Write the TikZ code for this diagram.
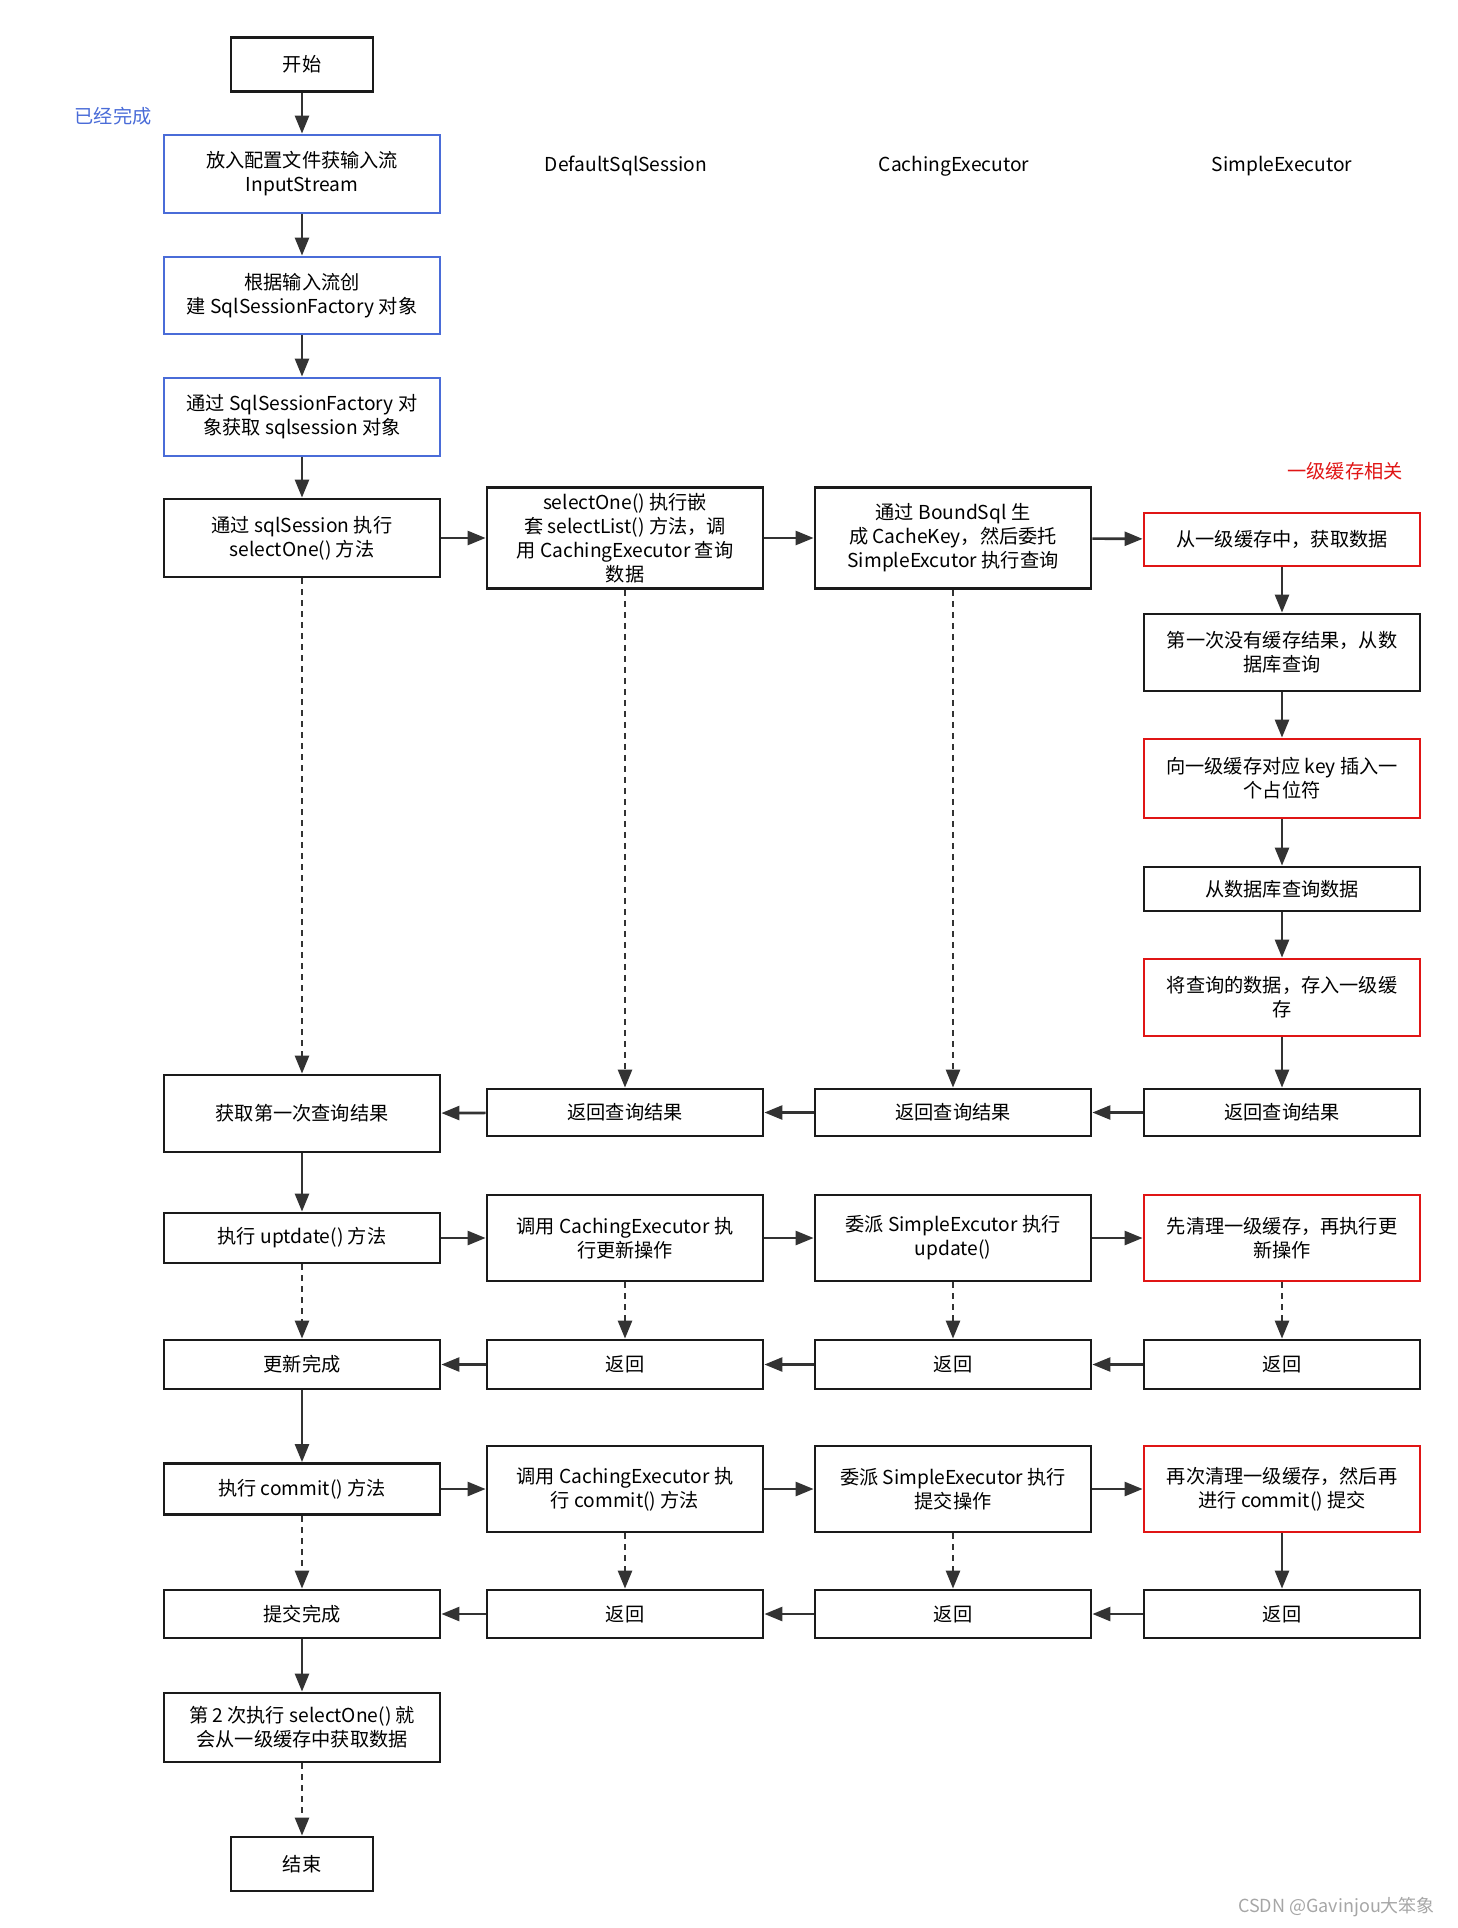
\documentclass[tikz,border=0pt]{standalone}
\usepackage{fontspec}
\setmainfont{Noto Sans CJK SC}
\usetikzlibrary{arrows.meta}
\definecolor{boxline}{HTML}{1A1A1A}
\definecolor{arrowc}{HTML}{333333}
\definecolor{doneblue}{HTML}{4A6CD8}
\definecolor{cachered}{HTML}{E01515}

\begin{document}
\begin{tikzpicture}[x=0.5pt,y=-0.5pt,
    font=\fontsize{9.6}{12}\selectfont,
    box/.style={draw=boxline, line width=1.4pt, fill=white, align=center,
        minimum width=138pt, inner sep=2pt},
    donebox/.style={box, draw=doneblue},
    cachebox/.style={box, draw=cachered},
    flow/.style={draw=arrowc, line width=1.3pt, -{Triangle[length=9pt,width=7pt]}},
    later/.style={flow, dash pattern=on 3pt off 2.5pt}]

    \useasboundingbox (0,0) rectangle (1457,1928);

    % column heads and notes
    \node at (626,166) {DefaultSqlSession};
    \node at (954,166) {CachingExecutor};
    \node at (1282,166) {SimpleExecutor};
    \node[text=doneblue] (done) at (113,116) {已经完成};
    \node[text=cachered] (cnote) at (1345,471) {一级缓存相关};

    % first column, top part
    \node[box, minimum width=71pt, minimum height=27pt] (start) at (302,64.5) {开始};
    \node[donebox, minimum height=39pt] (in1) at (302,174) {放入配置文件获输入流\\InputStream};
    \node[donebox, minimum height=38.5pt] (in2) at (302,295.5) {根据输入流创\\建 SqlSessionFactory 对象};
    \node[donebox, minimum height=39pt] (in3) at (302,417) {通过 SqlSessionFactory 对\\象获取 sqlsession 对象};

    % query row
    \node[box, minimum height=39pt] (q1) at (302,538) {通过 sqlSession 执行\\selectOne() 方法};
    \node[box, minimum height=50.5pt] (q2) at (625,538) {selectOne() 执行嵌\\套 selectList() 方法，调\\用 CachingExecutor 查询\\数据};
    \node[box, minimum height=50.5pt] (q3) at (953,538) {通过 BoundSql 生\\成 CacheKey，然后委托\\SimpleExcutor 执行查询};
    \node[cachebox, minimum height=26.5pt] (q4) at (1282,539.5) {从一级缓存中，获取数据};

    % cache steps
    \node[box, minimum height=38.5pt] (s1) at (1282,652.5) {第一次没有缓存结果，从数\\据库查询};
    \node[cachebox, minimum height=39.5pt] (s2) at (1282,778.5) {向一级缓存对应 key 插入一\\个占位符};
    \node[box, minimum height=22pt] (s3) at (1282,889) {从数据库查询数据};
    \node[cachebox, minimum height=38.5pt] (s4) at (1282,997.5) {将查询的数据，存入一级缓\\存};

    % query results
    \node[box, minimum height=38.5pt] (r1) at (302,1113.5) {获取第一次查询结果};
    \node[box, minimum height=23.5pt] (r2) at (625,1112.5) {返回查询结果};
    \node[box, minimum height=23.5pt] (r3) at (953,1112.5) {返回查询结果};
    \node[box, minimum height=23.5pt] (r4) at (1282,1112.5) {返回查询结果};

    % update row
    \node[box, minimum height=25pt] (u1) at (302,1238) {执行 uptdate() 方法};
    \node[box, minimum height=43pt] (u2) at (625,1238) {调用 CachingExecutor 执\\行更新操作};
    \node[box, minimum height=43pt] (u3) at (953,1238) {委派 SimpleExcutor 执行\\update()};
    \node[cachebox, minimum height=43pt] (u4) at (1282,1238) {先清理一级缓存，再执行更\\新操作};

    \node[box, minimum height=24.5pt] (d1) at (302,1364.5) {更新完成};
    \node[box, minimum height=24.5pt] (d2) at (625,1364.5) {返回};
    \node[box, minimum height=24.5pt] (d3) at (953,1364.5) {返回};
    \node[box, minimum height=24.5pt] (d4) at (1282,1364.5) {返回};

    % commit row
    \node[box, minimum height=25.5pt] (c1) at (302,1489) {执行 commit() 方法};
    \node[box, minimum height=43pt] (c2) at (625,1489) {调用 CachingExecutor 执\\行 commit() 方法};
    \node[box, minimum height=43pt] (c3) at (953,1489) {委派 SimpleExecutor 执行\\提交操作};
    \node[cachebox, minimum height=43pt] (c4) at (1282,1489) {再次清理一级缓存，然后再\\进行 commit() 提交};

    \node[box, minimum height=24pt] (f1) at (302,1614) {提交完成};
    \node[box, minimum height=24pt] (f2) at (625,1614) {返回};
    \node[box, minimum height=24pt] (f3) at (953,1614) {返回};
    \node[box, minimum height=24pt] (f4) at (1282,1614) {返回};

    \node[box, minimum height=34.5pt] (again) at (302,1727.5) {第 2 次执行 selectOne() 就\\会从一级缓存中获取数据};
    \node[box, minimum width=71pt, minimum height=27pt] (stop) at (302,1864) {结束};

    \node[text=gray!70, font=\fontsize{9}{10}\selectfont, anchor=east] (mark) at (1442,1907) {CSDN @Gavinjou大笨象};

    % solid connectors
    \foreach \a/\b in {start/in1, in1/in2, in2/in3, in3/q1,
        q1/q2, q2/q3, q3/q4,
        q4/s1, s1/s2, s2/s3, s3/s4, s4/r4,
        r4/r3, r3/r2, r2/r1, r1/u1,
        u1/u2, u2/u3, u3/u4,
        d4/d3, d3/d2, d2/d1, d1/c1,
        c1/c2, c2/c3, c3/c4, c4/f4,
        f4/f3, f3/f2, f2/f1, f1/again}
    \draw[flow] (\a) -- (\b);

    % dotted connectors
    \foreach \a/\b in {q1/r1, q2/r2, q3/r3,
        u1/d1, u2/d2, u3/d3, u4/d4,
        c1/f1, c2/f2, c3/f3, again/stop}
    \draw[later] (\a) -- (\b);

\end{tikzpicture}
\end{document}
